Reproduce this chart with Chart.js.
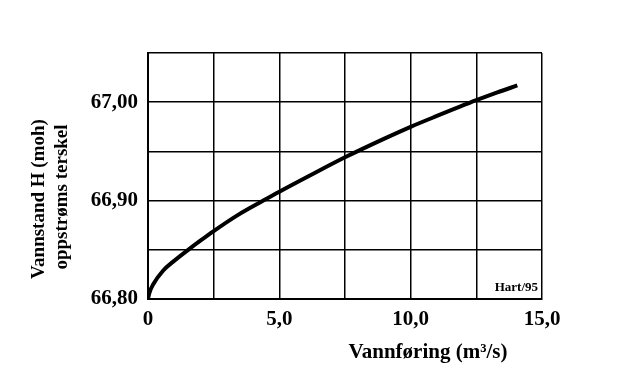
<!DOCTYPE html>
<html>
<head>
<meta charset="utf-8">
<script src="https://cdn.jsdelivr.net/npm/chart.js@4"></script>
<style>
  html, body { margin: 0; padding: 0; background: #fff; }
  #wrap { width: 630px; height: 379px; }
</style>
</head>
<body>
<div id="wrap"><canvas id="c" width="630" height="379"></canvas></div>
<script>
// Discharge Q (m3/s) and water level H (moh)
const discharge = [0, 0.05, 0.2, 0.58, 0.96, 1.53, 1.98, 2.5, 3.4, 4.39, 5.0, 6.2, 7.5, 9.0, 10.0, 11.0, 12.5, 13.3, 14.06];
const waterLevel = [66.800, 66.806, 66.815, 66.829, 66.838, 66.850, 66.859, 66.869, 66.885, 66.900, 66.909, 66.926, 66.944, 66.963, 66.975, 66.986, 67.002, 67.010, 67.017];

const xLabelValues = [0, 5, 10, 15];
const xLabelTexts = ['0', '5,0', '10,0', '15,0'];
const yLabelValues = [66.8, 66.9, 67.0];
const yLabelTexts = ['66,80', '66,90', '67,00'];

const yTitleLines = ['Vannstand H (moh)', 'oppstrøms terskel'];
const xTitle = 'Vannføring (m³/s)';
const note = 'Hart/95';

const SERIF = '"Liberation Serif", "Times New Roman", serif';

function findLabel(values, texts, v) {
  for (let i = 0; i < values.length; i++) {
    if (Math.abs(values[i] - v) < 1e-6) return texts[i];
  }
  return '';
}

const titlesPlugin = {
  id: 'titles',
  afterDraw(chart) {
    const ctx = chart.ctx;
    const area = chart.chartArea;
    ctx.save();
    ctx.fillStyle = '#000';
    // Y axis title (two rotated lines)
    ctx.font = 'bold 19px ' + SERIF;
    ctx.textAlign = 'center';
    ctx.textBaseline = 'middle';
    ctx.save();
    ctx.translate(39, 199);
    ctx.rotate(-Math.PI / 2);
    ctx.fillText(yTitleLines[0], 0, 0);
    ctx.restore();
    ctx.save();
    ctx.translate(62, 197);
    ctx.rotate(-Math.PI / 2);
    ctx.fillText(yTitleLines[1], 0, 0);
    ctx.restore();
    // X axis title
    ctx.font = 'bold 21px ' + SERIF;
    ctx.textAlign = 'center';
    ctx.textBaseline = 'alphabetic';
    ctx.fillText(xTitle, 428, 358);
    // Note
    ctx.font = 'bold 13px ' + SERIF;
    ctx.textAlign = 'right';
    ctx.fillText(note, area.right - 4, area.bottom - 8);
    ctx.restore();
  }
};

new Chart(document.getElementById('c'), {
  type: 'line',
  data: {
    datasets: [{
      data: discharge.map((q, i) => ({ x: q, y: waterLevel[i] })),
      borderColor: '#000',
      borderWidth: 4,
      pointRadius: 0,
      fill: false,
      cubicInterpolationMode: 'monotone'
    }]
  },
  options: {
    responsive: false,
    animation: false,
    layout: { padding: { top: 53, right: 88, left: 0, bottom: 0 } },
    plugins: { legend: { display: false }, tooltip: { enabled: false } },
    scales: {
      x: {
        type: 'linear',
        min: 0, max: 15,
        afterFit(scale) { scale.height = 80; },
        grid: { color: '#000', lineWidth: 1.5, drawTicks: false },
        border: { color: '#000', width: 2 },
        ticks: {
          stepSize: 2.5,
          padding: 8,
          color: '#000',
          font: { family: SERIF, size: 21, weight: 'bold' },
          maxRotation: 0,
          autoSkip: false,
          callback: (v) => findLabel(xLabelValues, xLabelTexts, v)
        }
      },
      y: {
        type: 'linear',
        min: 66.8, max: 67.05,
        afterFit(scale) { scale.width = 148; },
        grid: { color: '#000', lineWidth: 1.5, drawTicks: false },
        border: { color: '#000', width: 2 },
        ticks: {
          stepSize: 0.05,
          padding: 10,
          color: '#000',
          font: { family: SERIF, size: 21, weight: 'bold' },
          autoSkip: false,
          callback: (v) => findLabel(yLabelValues, yLabelTexts, v)
        }
      }
    }
  },
  plugins: [titlesPlugin]
});
</script>
</body>
</html>
